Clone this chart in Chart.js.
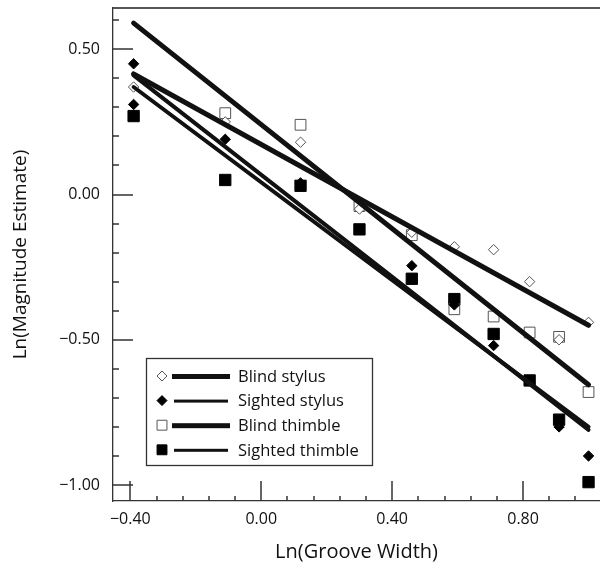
<!DOCTYPE html>
<html><head><meta charset="utf-8">
<script src="https://cdn.jsdelivr.net/npm/chart.js@4/dist/chart.umd.min.js"></script>
<style>html,body{margin:0;padding:0;background:#fff}</style>
</head><body>
<canvas id="c" width="600" height="569"></canvas>
<script>
// ---- data ----
const groove = [-0.39, -0.11, 0.12, 0.30, 0.46, 0.59, 0.71, 0.82, 0.91, 1.00];
const blindStylus = [0.37, 0.25, 0.18, -0.05, -0.13, -0.18, -0.19, -0.30, -0.50, -0.44];
const sightedStylusX = [-0.39, -0.39, -0.11, 0.12, 0.46, 0.59, 0.71, 0.82, 0.91, 1.00];
const sightedStylus = [0.45, 0.31, 0.19, 0.04, -0.245, -0.38, -0.52, -0.64, -0.80, -0.90];
const blindThimble = [null, 0.28, 0.24, -0.04, -0.14, -0.395, -0.42, -0.475, -0.49, -0.68];
const sightedThimble = [0.27, 0.05, 0.03, -0.12, -0.29, -0.36, -0.48, -0.64, -0.775, -0.99];
const fitX = [-0.39, 1.00];
const fitBlindStylus = [0.415, -0.45];
const fitSightedStylus = [0.41, -0.81];
const fitBlindThimble = [0.59, -0.655];
const fitSightedThimble = [0.37, -0.80];
const xTicks = [-0.40, 0.00, 0.40, 0.80];
const yTicks = [-1.00, -0.50, 0.00, 0.50];
const xMinorStep = 0.08;
const yMinorStep = 0.1;
const labels = ['Blind stylus', 'Sighted stylus', 'Blind thimble', 'Sighted thimble'];

const pts = (xs, ys) => xs.map((x, i) => ({x, y: ys[i]})).filter(p => p.y !== null);
const fmt = v => (v < 0 ? '\u2212' : '') + Math.abs(v).toFixed(2);

const markers = [
  {pointStyle: 'rectRot', pointRadius: 5.2, backgroundColor: '#fff', borderColor: '#555', borderWidth: 1},
  {pointStyle: 'rectRot', pointRadius: 5.2, backgroundColor: '#000', borderColor: '#000', borderWidth: 1},
  {pointStyle: 'rect', pointRadius: 7.6, backgroundColor: '#fff', borderColor: '#555', borderWidth: 1},
  {pointStyle: 'rect', pointRadius: 8.0, backgroundColor: '#000', borderColor: '#000', borderWidth: 1}
];
const lineW = [5, 4, 5, 4];
const pointSets = [pts(groove, blindStylus), pts(sightedStylusX, sightedStylus), pts(groove, blindThimble), pts(groove, sightedThimble)];
const fitSets = [fitBlindStylus, fitSightedStylus, fitBlindThimble, fitSightedThimble];

const datasets = [];
labels.forEach((lab, i) => {
  datasets.push(Object.assign({label: lab, data: pointSets[i], showLine: false, order: 2}, markers[i]));
});
labels.forEach((lab, i) => {
  datasets.push({label: lab + ' fit', data: pts(fitX, fitSets[i]), showLine: true, pointRadius: 0,
    borderColor: '#111', borderWidth: lineW[i], order: 1, borderCapStyle: 'round'});
});

function drawTicks(chart) {
  const ctx = chart.ctx;
  const xs = chart.scales.x, ys = chart.scales.y;
  const L = ys.right, R = xs.right, T = ys.top, B = xs.top;
  ctx.save();
  ctx.fillStyle = '#333';
  for (let k = -5; k <= 18; k++) {
    const px = xs.getPixelForValue(k * xMinorStep);
    if (!(px > L + 1 && px <= R)) continue;
    const len = (k % 5 === 0) ? 20 : 5;
    ctx.fillRect(Math.round(px) - 0.75, B - len, 1.5, len);
  }
  for (let k = -10; k <= 6; k++) {
    const py = ys.getPixelForValue(k * yMinorStep);
    if (!(py < B - 1 && py >= T)) continue;
    const len = (k % 5 === 0) ? 20 : 6;
    ctx.fillRect(L, Math.round(py) - 0.75, len, 1.5);
  }
  ctx.fillStyle = '#555';
  ctx.fillRect(L, T - 1, R - L, 2);
  ctx.restore();
}

function drawLegend(chart) {
  const ctx = chart.ctx;
  ctx.save();
  const bx = 146.5, by = 358.5, bw = 226, bh = 107;
  ctx.fillStyle = '#fff';
  ctx.fillRect(bx, by, bw, bh);
  ctx.strokeStyle = '#333';
  ctx.lineWidth = 1.3;
  ctx.strokeRect(bx, by, bw, bh);
  labels.forEach((lab, i) => {
    const cy = 376 + i * 24.6;
    const m = markers[i];
    ctx.fillStyle = m.backgroundColor;
    ctx.strokeStyle = m.borderColor;
    ctx.lineWidth = 1;
    Chart.helpers.drawPoint(ctx, {pointStyle: m.pointStyle, radius: m.pointStyle === 'rect' ? 7 : 5, borderWidth: 1}, 162, cy);
    ctx.fillStyle = '#111';
    const lw = lineW[i] === 5 ? 5 : 3;
    const x0 = i % 2 === 0 ? 172 : 174, x1 = i % 2 === 0 ? 230 : 228;
    ctx.fillRect(x0, cy - lw / 2 + 0.5, x1 - x0, lw);
    ctx.font = "16.5px 'Open Sans', sans-serif";
    ctx.textBaseline = 'middle';
    ctx.textAlign = 'left';
    ctx.fillText(lab, 238, cy + 1);
  });
  ctx.restore();
}

const decorPlugin = {
  id: 'decor',
  afterDraw(chart) {
    drawTicks(chart);
    drawLegend(chart);
  }
};

Chart.defaults.font.family = "'Open Sans', sans-serif";
Chart.defaults.color = '#111';

new Chart(document.getElementById('c'), {
  type: 'scatter',
  data: {datasets},
  options: {
    responsive: false,
    animation: false,
    events: [],
    layout: {autoPadding: false, padding: {top: 8, right: 0, left: 0, bottom: 0}},
    plugins: {legend: {display: false}, tooltip: {enabled: false}},
    scales: {
      x: {
        type: 'linear', position: 'bottom', min: -0.453, max: 1.035,
        afterBuildTicks: s => { s.ticks = xTicks.map(v => ({value: v})); },
        afterFit: s => { s.height = 68; s.paddingLeft = 0; s.paddingRight = 0; },
        ticks: {callback: v => fmt(v), font: {size: 16}, padding: 9, maxRotation: 0, autoSkip: false},
        grid: {display: true, drawOnChartArea: false, drawTicks: false},
        border: {display: true, color: '#333', width: 1.3},
        title: {display: true, text: 'Ln(Groove Width)', font: {size: 20}, padding: {top: 0, bottom: 5}}
      },
      y: {
        type: 'linear', position: 'left', min: -1.055, max: 0.642,
        afterBuildTicks: s => { s.ticks = yTicks.map(v => ({value: v})); },
        afterFit: s => { s.width = 113; s.paddingTop = 0; s.paddingBottom = 0; },
        ticks: {callback: v => fmt(v), font: {size: 16}, padding: 13, autoSkip: false},
        grid: {display: true, drawOnChartArea: false, drawTicks: false},
        border: {display: true, color: '#333', width: 1.3},
        title: {display: true, text: 'Ln(Magnitude Estimate)', font: {size: 19}, padding: {top: 9, bottom: 0}}
      }
    }
  },
  plugins: [decorPlugin]
});
</script>
</body></html>
